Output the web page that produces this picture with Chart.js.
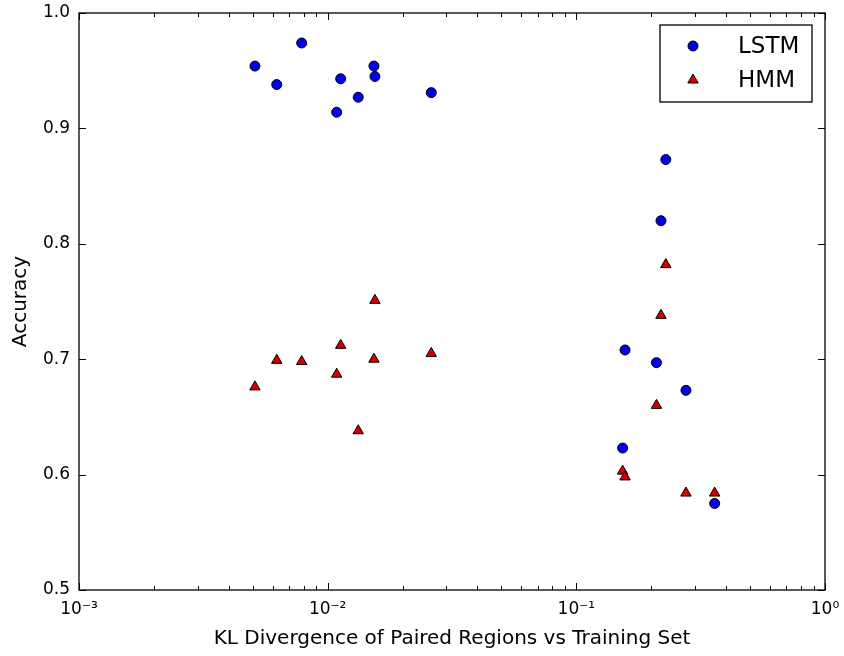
<!DOCTYPE html>
<html lang="en">
<head>
    <meta charset="UTF-8">
    <title>Accuracy vs KL Divergence</title>
    <script src="https://cdn.jsdelivr.net/npm/chart.js"></script>
    <style>
        body {
            margin: 0;
            background: #ffffff;
        }
        .chart-container {
            position: relative;
            width: 844px;
            height: 656px;
        }
    </style>
</head>
<body>
    <div class="chart-container">
        <canvas id="klChart"></canvas>
    </div>

    <script>
        // KL divergence of each paired region (shared by both models)
        const klValues = [0.0051, 0.00624, 0.00786, 0.01087, 0.01128, 0.01327, 0.01535, 0.01549, 0.0261,
                          0.1535, 0.157, 0.210, 0.219, 0.229, 0.276, 0.360];
        const lstmAccuracy = [0.954, 0.938, 0.974, 0.914, 0.943, 0.927, 0.954, 0.945, 0.931,
                              0.623, 0.708, 0.697, 0.820, 0.873, 0.673, 0.575];
        const hmmAccuracy = [0.676, 0.699, 0.698, 0.687, 0.712, 0.638, 0.700, 0.751, 0.705,
                             0.603, 0.598, 0.660, 0.738, 0.782, 0.584, 0.584];

        const xTickValues = [0.001, 0.01, 0.1, 1];
        const xTickLabels = ['10⁻³', '10⁻²', '10⁻¹', '10⁰'];
        const yTickValues = [0.5, 0.6, 0.7, 0.8, 0.9, 1.0];

        Chart.defaults.font.family = "'DejaVu Sans', sans-serif";
        Chart.defaults.font.size = 17;
        Chart.defaults.color = '#000';

        const toPoints = (ys) => klValues.map((x, i) => ({ x: x, y: ys[i] }));

        // frame + inward ticks, matplotlib classic style
        const frameTicks = {
            id: 'frameTicks',
            afterDraw(chart) {
                const { ctx, chartArea: a, scales: { x, y } } = chart;
                ctx.save();
                ctx.strokeStyle = '#000';
                ctx.lineWidth = 1;
                ctx.beginPath();
                const tick = (px, len, vertical) => {
                    if (vertical) {
                        ctx.moveTo(px, a.bottom); ctx.lineTo(px, a.bottom - len);
                        ctx.moveTo(px, a.top); ctx.lineTo(px, a.top + len);
                    } else {
                        ctx.moveTo(a.left, px); ctx.lineTo(a.left + len, px);
                        ctx.moveTo(a.right, px); ctx.lineTo(a.right - len, px);
                    }
                };
                xTickValues.forEach(v => tick(Math.round(x.getPixelForValue(v)) + 0.5, 7, true));
                xTickValues.slice(0, -1).forEach(d => {
                    for (let m = 2; m < 10; m++) {
                        tick(Math.round(x.getPixelForValue(d * m)) + 0.5, 4, true);
                    }
                });
                yTickValues.forEach(v => tick(Math.round(y.getPixelForValue(v)) + 0.5, 7, false));
                ctx.stroke();
                ctx.lineWidth = 1.3;
                ctx.strokeRect(a.left, a.top, a.right - a.left, a.bottom - a.top);
                ctx.restore();
            }
        };

        // legend box inside the plot, upper right
        const boxLegend = {
            id: 'boxLegend',
            afterDraw(chart) {
                const { ctx, chartArea: a } = chart;
                const left = a.right - 165, top = a.top + 12, w = 152, h = 77;
                ctx.save();
                ctx.fillStyle = '#fff';
                ctx.fillRect(left, top, w, h);
                ctx.strokeStyle = '#000';
                ctx.lineWidth = 1.3;
                ctx.strokeRect(left, top, w, h);
                chart.data.datasets.forEach((ds, i) => {
                    const mx = left + 33, my = top + 21 + i * 34;
                    ctx.beginPath();
                    ctx.fillStyle = ds.backgroundColor;
                    ctx.strokeStyle = '#000';
                    ctx.lineWidth = 1;
                    if (ds.pointStyle === 'triangle') {
                        const r = 6;
                        ctx.moveTo(mx, my - r);
                        ctx.lineTo(mx + r * 0.866, my + r * 0.5);
                        ctx.lineTo(mx - r * 0.866, my + r * 0.5);
                        ctx.closePath();
                    } else {
                        ctx.arc(mx, my, 5, 0, Math.PI * 2);
                    }
                    ctx.fill();
                    ctx.stroke();
                    ctx.fillStyle = '#000';
                    ctx.font = "23px 'DejaVu Sans'";
                    ctx.textBaseline = 'middle';
                    ctx.fillText(ds.label, left + 78, my + 1);
                });
                ctx.restore();
            }
        };

        new Chart(document.getElementById('klChart'), {
            type: 'scatter',
            data: {
                datasets: [{
                    label: 'LSTM',
                    data: toPoints(lstmAccuracy),
                    pointStyle: 'circle',
                    pointRadius: 5,
                    backgroundColor: '#0000ee',
                    borderColor: '#000',
                    borderWidth: 1
                }, {
                    label: 'HMM',
                    data: toPoints(hmmAccuracy),
                    pointStyle: 'triangle',
                    pointRadius: 6,
                    backgroundColor: '#d40000',
                    borderColor: '#000',
                    borderWidth: 1
                }]
            },
            options: {
                responsive: true,
                maintainAspectRatio: false,
                animation: false,
                layout: { padding: { top: 13, right: 19, left: 0, bottom: 5 } },
                plugins: {
                    legend: { display: false },
                    tooltip: { enabled: false }
                },
                scales: {
                    x: {
                        type: 'logarithmic',
                        min: 0.001,
                        max: 1,
                        grid: { display: false, drawTicks: false },
                        border: { display: false },
                        afterBuildTicks: (scale) => {
                            scale.ticks = xTickValues.map(v => ({ value: v, major: true }));
                        },
                        afterFit: (scale) => {
                            scale.height = 61;
                            scale.paddingLeft = 0;
                            scale.paddingRight = 0;
                        },
                        ticks: {
                            autoSkip: false,
                            maxRotation: 0,
                            padding: 9,
                            callback: (v) => xTickLabels[xTickValues.indexOf(v)]
                        },
                        title: {
                            display: true,
                            text: 'KL Divergence of Paired Regions vs Training Set',
                            font: { size: 20 },
                            padding: { top: 4, bottom: 0 }
                        }
                    },
                    y: {
                        min: 0.5,
                        max: 1.0,
                        grid: { display: false, drawTicks: false },
                        border: { display: false },
                        afterBuildTicks: (scale) => {
                            scale.ticks = yTickValues.map(v => ({ value: v }));
                        },
                        afterFit: (scale) => {
                            scale.width = 79;
                            scale.paddingTop = 0;
                            scale.paddingBottom = 0;
                        },
                        ticks: {
                            padding: 9,
                            callback: (v) => v.toFixed(1)
                        },
                        title: {
                            display: true,
                            text: 'Accuracy',
                            font: { size: 20 },
                            padding: { top: 9, bottom: 3 }
                        }
                    }
                }
            },
            plugins: [frameTicks, boxLegend]
        });
    </script>
</body>
</html>
